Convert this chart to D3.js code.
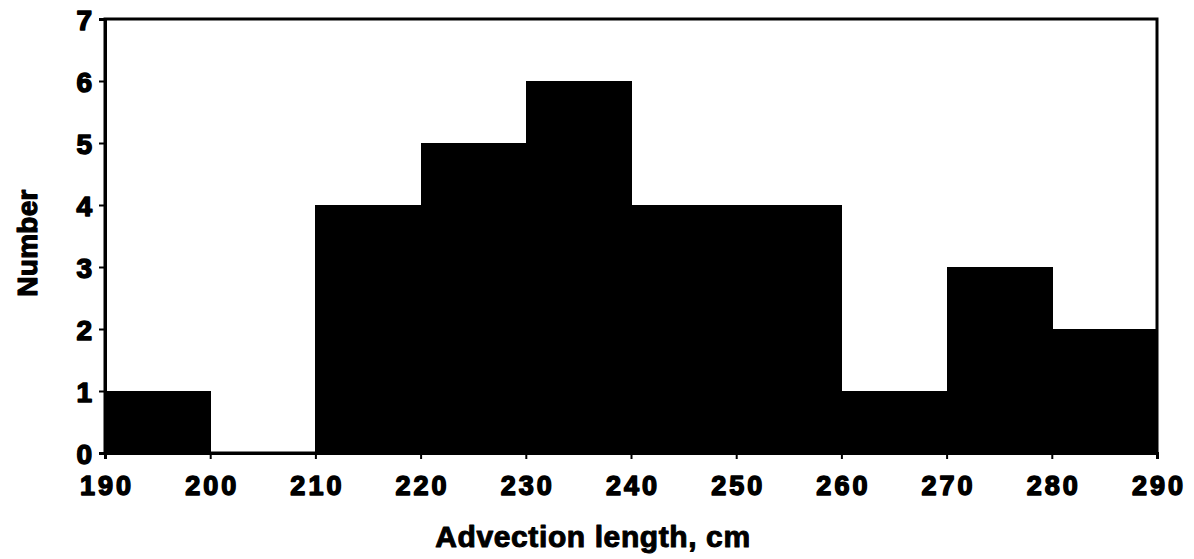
<!DOCTYPE html>
<html>
<head>
<meta charset="utf-8">
<script src="https://cdn.jsdelivr.net/npm/d3@7"></script>
<style>
  html, body { margin: 0; padding: 0; background: #fff; }
  text { font-family: "Liberation Sans", Arial, sans-serif; font-weight: bold; fill: #000; }
</style>
</head>
<body>
<svg id="chart" width="1194" height="559"></svg>
<script>
// Histogram bins of advection length (cm) and their counts
const binStarts = [190, 200, 210, 220, 230, 240, 250, 260, 270, 280];
const binWidth = 10;
const counts = [1, 0, 4, 5, 6, 4, 4, 1, 3, 2];
const xTicks = [190, 200, 210, 220, 230, 240, 250, 260, 270, 280, 290];
const yTicks = [0, 1, 2, 3, 4, 5, 6, 7];

const svg = d3.select("#chart");
const margin = { left: 105, right: 37, top: 19, bottom: 106 };
const W = 1194, H = 559;

const x = d3.scaleLinear().domain([190, 290]).range([margin.left, W - margin.right]);
const y = d3.scaleLinear().domain([0, 7]).range([H - margin.bottom, margin.top]);

// bars
svg.append("g").attr("shape-rendering", "crispEdges").selectAll("rect")
  .data(binStarts.map((s, i) => ({ s, c: counts[i] })))
  .join("rect")
  .attr("x", d => x(d.s))
  .attr("width", d => x(d.s + binWidth) - x(d.s) + 1)
  .attr("y", d => y(d.c))
  .attr("height", d => y(0) - y(d.c))
  .attr("fill", "#000");

// plot frame
svg.append("rect")
  .attr("x", x(190)).attr("y", y(7))
  .attr("width", x(290) - x(190)).attr("height", y(0) - y(7))
  .attr("fill", "none").attr("stroke", "#000").attr("stroke-width", 3);

// heavy label style: bold face thickened with a matching stroke
function heavy(sel, size, spacing, strokeW) {
  sel.attr("font-size", size)
    .attr("font-family", "Liberation Sans, Arial, sans-serif")
    .style("font-weight", "bold")
    .attr("fill", "#000")
    .attr("stroke", "#000")
    .attr("stroke-width", strokeW)
    .attr("stroke-linejoin", "round")
    .style("letter-spacing", spacing + "px");
}

// x axis
const xAxis = svg.append("g")
  .attr("transform", `translate(0,${y(0)})`)
  .call(d3.axisBottom(x).tickValues(xTicks).tickSize(6).tickPadding(17).tickFormat(d3.format("d")));
xAxis.select(".domain").attr("stroke-width", 3);
xAxis.selectAll(".tick line").attr("stroke-width", 2);
xAxis.selectAll(".tick text").call(heavy, 27, 3, 1.5).attr("dx", 1.5);

// y axis
const yAxis = svg.append("g")
  .attr("transform", `translate(${x(190)},0)`)
  .call(d3.axisLeft(y).tickValues(yTicks).tickSize(6).tickPadding(7).tickFormat(d3.format("d")));
yAxis.select(".domain").attr("stroke-width", 3);
yAxis.selectAll(".tick line").attr("stroke-width", 2);
yAxis.selectAll(".tick text").call(heavy, 28, 0, 1.5).attr("dy", "0.36em");

// axis titles
svg.append("text")
  .attr("x", 593)
  .attr("y", 547)
  .attr("text-anchor", "middle")
  .call(heavy, 30, 0.6, 1)
  .text("Advection length, cm");

svg.append("text")
  .attr("transform", `translate(37,${(y(0) + y(7)) / 2 + 7}) rotate(-90)`)
  .attr("text-anchor", "middle")
  .call(heavy, 28, 0.3, 1.2)
  .text("Number");
</script>
</body>
</html>
